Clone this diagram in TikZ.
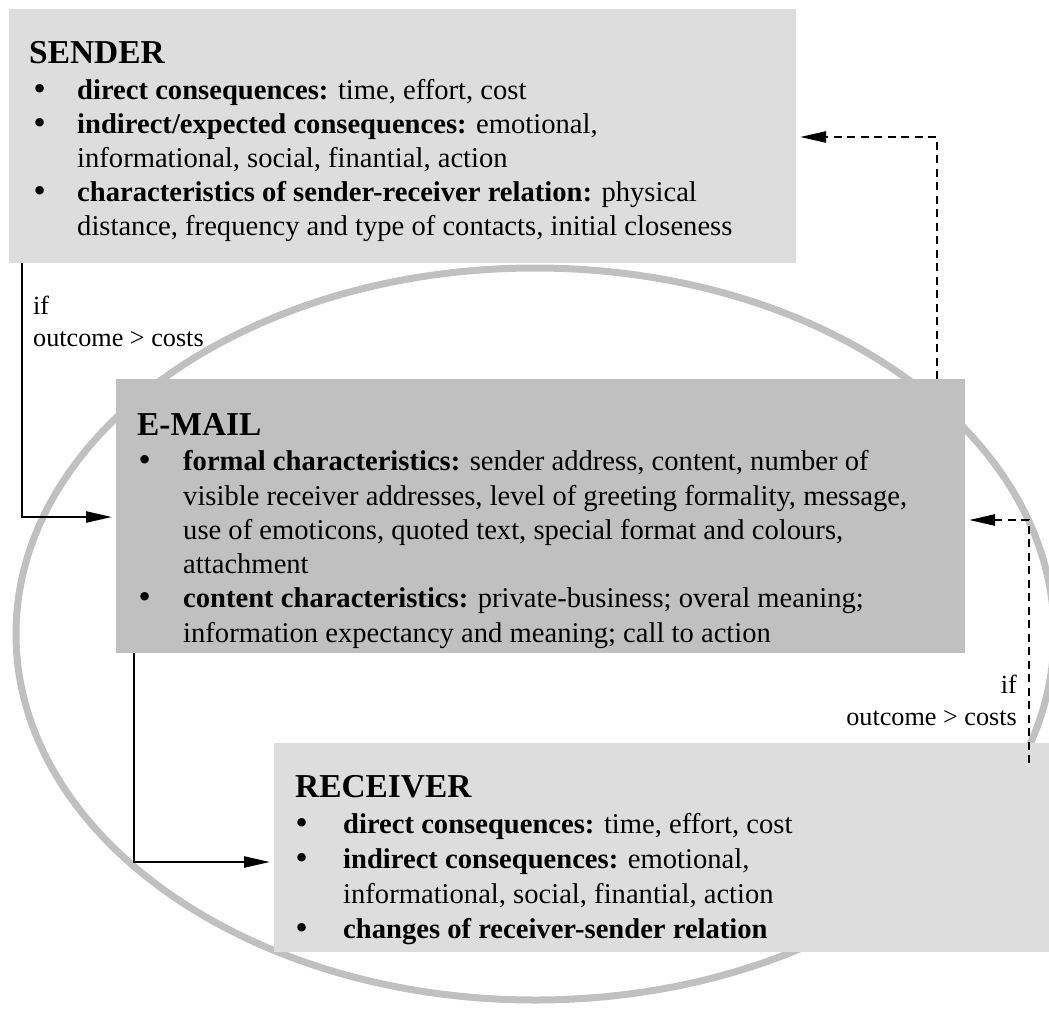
\documentclass[tikz,border=0pt]{standalone}
\usepackage{fontspec}
\setmainfont{Liberation Serif}
\newfontfamily\bulfont{DejaVu Sans}
\usetikzlibrary{arrows.meta,calc}
\definecolor{lightbox}{HTML}{DDDDDD}
\definecolor{darkbox}{HTML}{C0C0C0}
\definecolor{ringgray}{HTML}{C0C0C0}
\begin{document}
\begin{tikzpicture}[x=1pt,y=-1pt,
  box/.style={anchor=north west, inner sep=0pt, outer sep=0pt, draw=none},
  head/.style={anchor=base west, inner sep=0pt, font=\fontsize{33.4}{38}\selectfont\bfseries},
  txt/.style={anchor=base west, inner sep=0pt, font=\fontsize{28.6}{34}\selectfont},
  bul/.style={anchor=base, inner sep=0pt, font=\bulfont\fontsize{29}{34}\selectfont},
  lbl/.style={inner sep=0pt, font=\fontsize{26.2}{31}\selectfont},
  conn/.style={line width=2.4pt, -{Triangle[length=26pt,width=11pt]}, shorten >=4pt},
  dconn/.style={conn, dash pattern=on 8pt off 5.5pt},
]
\useasboundingbox (0,0) rectangle (1049,1009);

% ring
\draw[ringgray, line width=7pt] (535,634) ellipse [x radius=519pt, y radius=366pt];

% boxes
\node[box, fill=lightbox, minimum width=787pt, minimum height=254pt] (sender) at (9,9) {};
\node[box, fill=darkbox, minimum width=849pt, minimum height=274pt] (email) at (116,379) {};
\node[box, fill=lightbox, minimum width=775pt, minimum height=209pt] (receiver) at (274,743) {};

% sender text
\begin{scope}
\clip (sender.north west) rectangle (sender.south east);
\node[head] (sh) at (29,63) {SENDER};
\node[bul] (sb1) at (40,99) {•};
\node[txt] (st1) at (77,99) {\textbf{direct consequences:} time, effort, cost};
\node[bul] (sb2) at (40,133) {•};
\node[txt] (st2) at (77,133) {\textbf{indirect/expected consequences:} emotional,};
\node[txt] (st3) at (77,167) {informational, social, finantial, action};
\node[bul] (sb3) at (40,201) {•};
\node[txt] (st4) at (77,201) {\textbf{characteristics of sender-receiver relation:} physical};
\node[txt] (st5) at (77,235) {distance, frequency and type of contacts, initial closeness};
\end{scope}

% e-mail text
\begin{scope}
\clip (email.north west) rectangle (email.south east);
\node[head] (eh) at (137,435) {E-MAIL};
\node[bul] (eb1) at (145,470) {•};
\node[txt] (et1) at (183,470) {\textbf{formal characteristics:} sender address, content, number of};
\node[txt] (et2) at (183,505) {visible receiver addresses, level of greeting formality, message,};
\node[txt] (et3) at (183,539) {use of emoticons, quoted text, special format and colours,};
\node[txt] (et4) at (183,573) {attachment};
\node[bul] (eb2) at (145,607) {•};
\node[txt] (et5) at (183,607) {\textbf{content characteristics:} private-business; overal meaning;};
\node[txt] (et6) at (183,642) {information expectancy and meaning; call to action};
\end{scope}

% receiver text
\begin{scope}
\clip (receiver.north west) rectangle (receiver.south east);
\node[head] (rh) at (295,797) {RECEIVER};
\node[bul] (rb1) at (302,833) {•};
\node[txt] (rt1) at (343,833) {\textbf{direct consequences:} time, effort, cost};
\node[bul] (rb2) at (302,868) {•};
\node[txt] (rt2) at (343,868) {\textbf{indirect consequences:} emotional,};
\node[txt] (rt3) at (343,903) {informational, social, finantial, action};
\node[bul] (rb3) at (302,938) {•};
\node[txt] (rt4) at (343,938) {\textbf{changes of receiver-sender relation}};
\end{scope}

% connectors
\coordinate (a1s) at ($(sender.south west)+(13,0)$);
\draw[conn] (a1s) |- ($(email.north west)+(0,138)$);
\coordinate (a2s) at ($(email.south west)+(18,0)$);
\draw[conn] (a2s) |- ($(receiver.north west)+(0,119)$);
\coordinate (a3s) at ($(receiver.north west)+(755,20)$);
\draw[dconn] (a3s) |- ($(email.north east)+(0,141)$);
\coordinate (a4s) at ($(email.north east)+(-28,0)$);
\draw[dconn] (a4s) |- ($(sender.north east)+(0,128)$);

% labels
\node[lbl, anchor=base west] (l1a) at (33,314) {if};
\node[lbl, anchor=base west] (l1b) at (33,346) {outcome > costs};
\node[lbl, anchor=base east] (l2a) at (1017,693) {if};
\node[lbl, anchor=base east] (l2b) at (1017,725) {outcome > costs};
\end{tikzpicture}
\end{document}
